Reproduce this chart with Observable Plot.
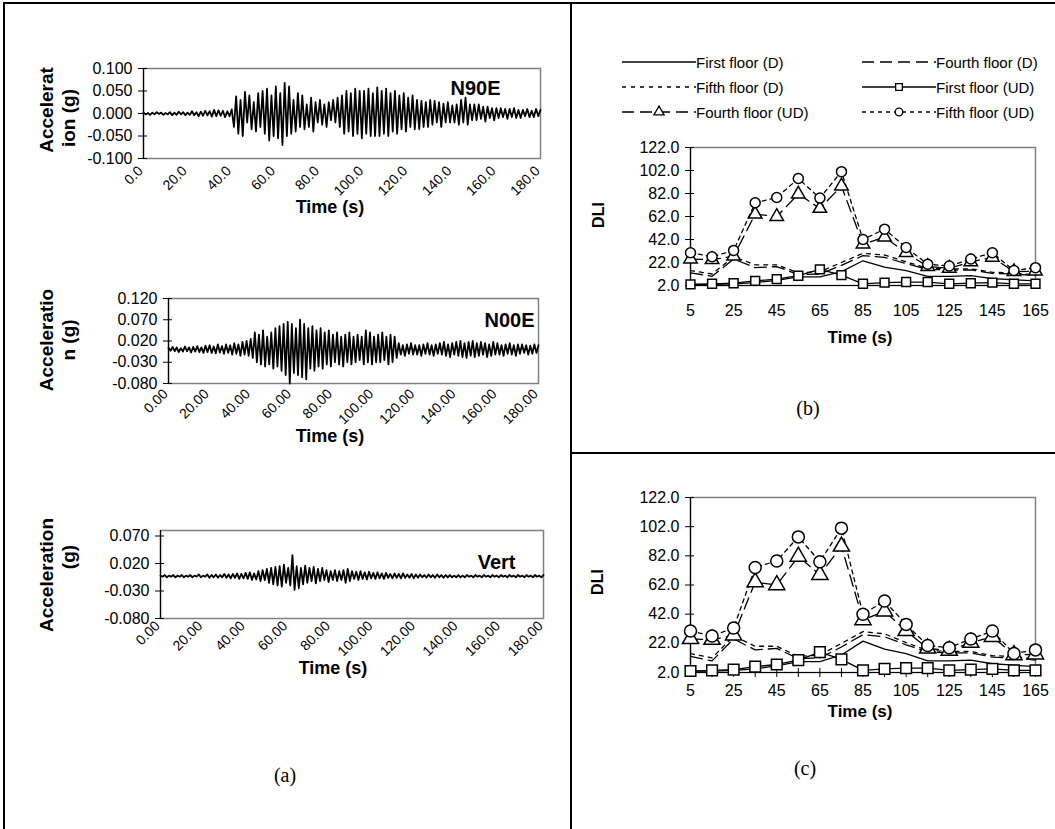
<!DOCTYPE html>
<html><head><meta charset="utf-8">
<script src="https://cdn.jsdelivr.net/npm/d3@7"></script>
<script src="https://cdn.jsdelivr.net/npm/@observablehq/plot@0.6"></script>
<style>
body{margin:0;background:#fff;}
#fig{position:relative;width:1055px;height:829px;overflow:hidden;font-family:Arial,"Liberation Sans",sans-serif;background:#fff;color:#000}
.rule{position:absolute;background:#000}
.plot{position:absolute}
.lbl{position:absolute;font-weight:bold;white-space:nowrap;transform:translate(-50%,-50%);line-height:1}
.rot{transform:translate(-50%,-50%) rotate(-90deg)}
.panel{position:absolute;font-family:"Times New Roman","Liberation Serif",serif;font-size:20px;transform:translate(-50%,-50%)}
.leg{position:absolute;height:16px;display:flex;align-items:center;font-size:15px;white-space:nowrap}
</style></head>
<body><div id="fig"></div>
<script>
// ---------- data ----------
const accelStep = 1; // seconds between samples
const accelXTicks = [0, 20, 40, 60, 80, 100, 120, 140, 160, 180];

const n90e = [
 0.002,-0.002,0.001,-0.003,0.002,-0.002,0.003,-0.001,0.002,-0.003,0.001,
 -0.002,0.003,-0.004,0.002,-0.003,0.004,-0.002,0.003,-0.004,0.002,
 -0.003,0.005,-0.004,0.003,-0.006,0.004,-0.005,0.006,-0.004,0.005,
 -0.007,0.008,-0.006,0.007,-0.005,0.006,-0.008,0.005,-0.006,0.009,
 -0.03,0.038,-0.045,0.03,-0.05,0.048,-0.02,0.04,-0.035,0.025,
 -0.04,0.045,-0.03,0.05,-0.045,0.055,-0.06,0.04,-0.05,0.06,
 -0.055,0.045,-0.07,0.068,-0.05,0.06,-0.045,0.03,-0.04,0.045,
 -0.03,0.04,-0.035,0.02,-0.03,0.035,-0.04,0.025,-0.02,0.03,
 -0.025,0.02,-0.03,0.025,-0.015,0.03,-0.02,0.035,-0.03,0.04,
 -0.045,0.05,-0.04,0.045,-0.05,0.055,-0.045,0.05,-0.055,0.05,
 -0.045,0.055,-0.05,0.045,-0.05,0.058,-0.05,0.05,-0.045,0.055,
 -0.05,0.045,-0.04,0.05,-0.045,0.04,-0.035,0.045,-0.04,0.035,
 -0.03,0.04,-0.035,0.03,-0.035,0.028,-0.03,0.025,-0.03,0.03,
 -0.025,0.028,-0.02,0.025,-0.03,0.022,-0.02,0.025,-0.02,0.018,
 -0.02,0.02,-0.025,0.03,-0.02,0.035,-0.025,0.02,-0.015,0.02,
 -0.015,0.02,-0.012,0.015,-0.018,0.015,-0.01,0.012,-0.015,0.012,
 -0.01,0.012,-0.008,0.01,-0.012,0.01,-0.008,0.012,-0.01,0.008,
 -0.01,0.008,-0.006,0.01,-0.008,0.006,-0.008,0.01,-0.006,0.008
];
const n00e = [
 0.004,-0.003,0.006,-0.004,0.005,-0.006,0.003,-0.005,0.007,-0.004,0.005,
 -0.007,0.006,-0.005,0.008,-0.006,0.005,-0.008,0.009,-0.006,0.01,
 -0.008,0.007,-0.009,0.012,-0.007,0.008,-0.01,0.012,-0.008,0.01,
 -0.012,0.015,-0.01,0.012,-0.015,0.018,-0.012,0.02,-0.015,0.025,
 -0.02,0.04,-0.03,0.035,-0.035,0.045,-0.04,0.03,-0.035,0.04,
 -0.045,0.05,-0.04,0.055,-0.05,0.06,-0.06,0.065,-0.08,0.06,
 -0.055,0.05,-0.06,0.07,-0.065,0.06,-0.07,0.05,-0.045,0.055,
 -0.05,0.045,-0.04,0.05,-0.045,0.04,-0.035,0.045,-0.04,0.035,
 -0.03,0.04,-0.035,0.03,-0.04,0.035,-0.03,0.04,-0.035,0.03,
 -0.03,0.035,-0.025,0.03,-0.035,0.045,-0.03,0.04,-0.035,0.03,
 -0.03,0.035,-0.03,0.04,-0.025,0.03,-0.035,0.035,-0.03,0.03,
 -0.02,0.015,-0.012,0.01,-0.015,0.012,-0.01,0.015,-0.012,0.01,
 -0.012,0.01,-0.015,0.012,-0.01,0.015,-0.012,0.01,-0.015,0.012,
 -0.01,0.015,-0.012,0.018,-0.015,0.012,-0.018,0.015,-0.012,0.018,
 -0.015,0.02,-0.018,0.015,-0.02,0.018,-0.015,0.02,-0.018,0.015,
 -0.015,0.018,-0.012,0.015,-0.018,0.012,-0.015,0.018,-0.012,0.015,
 -0.012,0.01,-0.015,0.012,-0.01,0.015,-0.012,0.01,-0.015,0.012,
 -0.01,0.012,-0.008,0.01,-0.012,0.009,-0.01,0.012,-0.008,0.01
];
const vert = [
 -0.002,-0.004,-0.001,-0.005,-0.002,-0.004,-0.001,-0.005,-0.002,-0.004,-0.001,
 -0.005,-0.002,-0.004,-0.001,-0.005,-0.002,-0.004,0.000,-0.005,-0.002,
 -0.004,0.000,-0.006,-0.001,-0.005,0.000,-0.006,-0.001,-0.005,0.001,
 -0.006,0.000,-0.007,0.001,-0.006,0.002,-0.008,0.001,-0.007,0.003,
 -0.008,0.004,-0.01,0.002,-0.009,0.006,-0.012,0.008,-0.01,0.01,
 -0.015,0.012,-0.018,0.014,-0.02,0.015,-0.022,0.018,-0.015,0.012,
 -0.02,0.035,-0.028,0.015,-0.025,0.012,-0.018,0.016,-0.015,0.012,
 -0.012,0.014,-0.016,0.01,-0.012,0.012,-0.01,0.008,-0.014,0.006,
 -0.01,0.008,-0.012,0.006,-0.01,0.008,-0.015,0.01,-0.012,0.006,
 -0.008,0.005,-0.01,0.006,-0.008,0.004,-0.009,0.005,-0.007,0.003,
 -0.008,0.004,-0.007,0.002,-0.008,0.003,-0.006,0.001,-0.007,0.002,
 -0.006,0.001,-0.007,0.002,-0.006,0.000,-0.006,0.001,-0.007,0.000,
 -0.006,0.000,-0.005,-0.001,-0.006,0.000,-0.005,-0.001,-0.006,0.000,
 -0.005,-0.001,-0.006,-0.001,-0.005,-0.001,-0.005,-0.002,-0.005,-0.001,
 -0.005,-0.002,-0.005,-0.001,-0.004,-0.002,-0.005,-0.001,-0.004,-0.002,
 -0.005,-0.001,-0.004,-0.002,-0.005,-0.001,-0.004,-0.002,-0.005,-0.001,
 -0.004,-0.002,-0.005,-0.001,-0.004,-0.002,-0.005,-0.001,-0.004,-0.002,
 -0.005,-0.001,-0.004,-0.002,-0.005,-0.001,-0.004,-0.002,-0.005,-0.001
];

const dliTimes = [5,15,25,35,45,55,65,75,85,95,105,115,125,135,145,155,165];
const dliXTicks = [5,25,45,65,85,105,125,145,165];
const dliYTicks = [2,22,42,62,82,102,122];
const firstD   = [3,3,3.5,4.5,6.5,9.5,9.5,14,23.5,18,15,10,10,10.5,8,7,6];
const fourthD  = [13,10,25,17.5,18.5,11.5,12,19.5,28,26.5,21,16,15.5,15.5,12.5,12,10.5];
const fifthD   = [15,12,27,20,20,13,14,22,30,28.5,22.5,17,16.5,16.5,13.5,13,11];
const firstUD  = [3,3.5,4,6,7.5,10.5,16,11,3.5,4.5,5,5,3.5,4,4.5,3.5,3.5];
const fourthUD = [25,24.5,27.5,64,62,81.5,69,88.5,38,44,30.5,18.5,17,22.5,26.5,14,14.5];
const fifthUD  = [30.5,27,32.5,74,78.5,95,78,101,42,51,35,20.5,19,25,30.5,15,17.5];

const seriesNames = ["First floor (D)","Fourth floor (D)","Fifth floor (D)","First floor (UD)","Fourth floor (UD)","Fifth floor (UD)"];
const seriesValues = [firstD, fourthD, fifthD, firstUD, fourthUD, fifthUD];
const seriesDash = [null, "12,6", "4,5", null, "12,6", "4,4"];
const seriesSymbol = [null, null, null, "square", "triangle", "circle"];

// ---------- layout helpers ----------
const fig = document.getElementById("fig");
function rule(l,t,w,h){const d=document.createElement("div");d.className="rule";Object.assign(d.style,{left:l+"px",top:t+"px",width:w+"px",height:h+"px"});fig.appendChild(d);}
function place(el,l,t){el.classList.add("plot");el.style.left=l+"px";el.style.top=t+"px";fig.appendChild(el);}
function label(text,x,y,size,rot,cls){const d=document.createElement("div");d.className=(cls||"lbl")+(rot?" rot":"");d.textContent=text;d.style.left=x+"px";d.style.top=y+"px";if(size)d.style.fontSize=size+"px";fig.appendChild(d);}

rule(3,2,1052,2); rule(3,2,2,827); rule(570,2,1.5,827); rule(570,452,485,1.5);

const FONT = "Arial, 'Liberation Sans', sans-serif";

function accelChart(values, o){
  return Plot.plot({
    width:o.w, height:o.h, marginLeft:o.ml, marginRight:o.mr, marginTop:o.mt, marginBottom:o.mb,
    style:{fontFamily:FONT, fontSize:"16px", color:"#000", background:"transparent", overflow:"visible"},
    x:{domain:[0,180], axis:null},
    y:{domain:o.yDomain, axis:null},
    marks:[
      Plot.frame({stroke:"#808080", strokeWidth:1.5}),
      Plot.axisX({ticks:accelXTicks, tickFormat:d=>d.toFixed(o.xDec), tickRotate:-45, tickSize:0, tickPadding:o.xpad, dx:-3, label:null, fontSize:14}),
      Plot.axisY({ticks:o.yTicks, tickFormat:d=>d.toFixed(3), tickSize:9, dx:4, tickPadding:6, label:null, fontSize:16}),
      Plot.ruleX([0], {stroke:"#000", strokeWidth:1.2}),
      Plot.line(values, {x:(d,i)=>i*accelStep, y:d=>d, stroke:"#000", strokeWidth:1.8}),
      Plot.text([o.name], {frameAnchor:"top-right", dx:o.ndx, dy:o.ndy, text:d=>d, fontWeight:"bold", fontSize:20, textAnchor:"end"})
    ]
  });
}

place(accelChart(n90e,{w:560,h:180,ml:143,mr:20,mt:28,mb:62,yDomain:[-0.1,0.1],yTicks:[-0.1,-0.05,0,0.05,0.1],xDec:1,xpad:10,name:"N90E",ndx:-40,ndy:12}),0,40);
place(accelChart(n00e,{w:560,h:180,ml:168,mr:22,mt:28,mb:67,yDomain:[-0.08,0.12],yTicks:[-0.08,-0.03,0.02,0.07,0.12],xDec:2,xpad:8,name:"N00E",ndx:-4,ndy:14}),0,270);
place(accelChart(vert,{w:560,h:180,ml:160,mr:17,mt:30,mb:62,yDomain:[-0.08,0.08],yTicks:[-0.08,-0.03,0.02,0.07],xDec:2,xpad:5,name:"Vert",ndx:-28,ndy:24}),0,500);

label("Accelerat",46,110,19,true); label("ion (g)",68,118,19,true);
label("Acceleratio",46,340,19,true); label("n (g)",68,340,19,true);
label("Acceleration",46,575,19,true); label("(g)",68,557,19,true);
label("Time (s)",330,207,18); label("Time (s)",330,436,18); label("Time (s)",333,668,18);
label("(a)",285,775,20,false,"panel");

function dliChart(o){
  const marks = [
    Plot.frame({stroke:"#808080", strokeWidth:1.5}),
    Plot.axisX({ticks:dliXTicks, tickSize:0, tickPadding:o.xpad, label:null, fontSize:16}),
    Plot.axisY({ticks:dliYTicks, tickFormat:d=>d.toFixed(1), tickSize:9, dx:4, tickPadding:6, label:null, fontSize:16}),
    Plot.ruleX([5], {stroke:"#000", strokeWidth:1.2}),
    Plot.ruleY([2], {stroke:"#000", strokeWidth:1.2})
  ];
  if (o.ticks) marks.push(Plot.axisX({ticks:dliTimes, tickSize:9, dy:-4, tickFormat:()=>"", label:null}));
  seriesValues.forEach((vals,k)=>{
    marks.push(Plot.line(dliTimes, {x:d=>d, y:(d,i)=>vals[i], stroke:"#000", strokeWidth:1.3, strokeDasharray:seriesDash[k]}));
  });
  seriesValues.forEach((vals,k)=>{
    if (seriesSymbol[k]) marks.push(Plot.dot(dliTimes, {x:d=>d, y:(d,i)=>vals[i], symbol:seriesSymbol[k], r:o.r, fill:"#fff", stroke:"#000", strokeWidth:1.5}));
  });
  return Plot.plot({
    width:480, height:o.h, marginLeft:115, marginRight:20, marginTop:o.mt, marginBottom:o.mb,
    style:{fontFamily:FONT, fontSize:"16px", color:"#000", background:"transparent", overflow:"visible"},
    x:{domain:[5,165], axis:null}, y:{domain:[2,122], axis:null},
    marks
  });
}
place(dliChart({h:230, mt:17, mb:75, xpad:19, r:5, ticks:false}),575,130);
place(dliChart({h:230, mt:17, mb:38, xpad:12, r:6, ticks:true}),575,480);

label("DLI",599,215,16,true); label("DLI",598,582,16,true);
label("Time (s)",860,337,17); label("Time (s)",860,711,17);
label("(b)",808,408,20,false,"panel"); label("(c)",805,768,20,false,"panel");

// legend
const legCols = [622, 862], legRows = [62, 87, 112];
seriesNames.forEach((name,k)=>{
  const col = k % 2, row = Math.floor(k/2);
  const d = document.createElement("div"); d.className="leg";
  d.style.left = legCols[col]+"px"; d.style.top = (legRows[row]-8)+"px";
  const ns="http://www.w3.org/2000/svg";
  const svg=document.createElementNS(ns,"svg"); svg.setAttribute("width",74); svg.setAttribute("height",16);
  const ln=document.createElementNS(ns,"line");
  ln.setAttribute("x1",0);ln.setAttribute("x2",74);ln.setAttribute("y1",8);ln.setAttribute("y2",8);
  ln.setAttribute("stroke","#000");ln.setAttribute("stroke-width",1.3);
  if (seriesDash[k]) ln.setAttribute("stroke-dasharray",seriesDash[k]);
  svg.appendChild(ln);
  if (seriesSymbol[k]){
    const sym = {square:d3.symbolSquare, triangle:d3.symbolTriangle, circle:d3.symbolCircle}[seriesSymbol[k]];
    const p=document.createElementNS(ns,"path");
    p.setAttribute("d", d3.symbol(sym, 45)());
    p.setAttribute("transform","translate(37,8)");
    p.setAttribute("fill","#fff");p.setAttribute("stroke","#000");p.setAttribute("stroke-width",1.3);
    svg.appendChild(p);
  }
  d.appendChild(svg);
  const s=document.createElement("span"); s.textContent=name; d.appendChild(s);
  fig.appendChild(d);
});
</script>
</body></html>
